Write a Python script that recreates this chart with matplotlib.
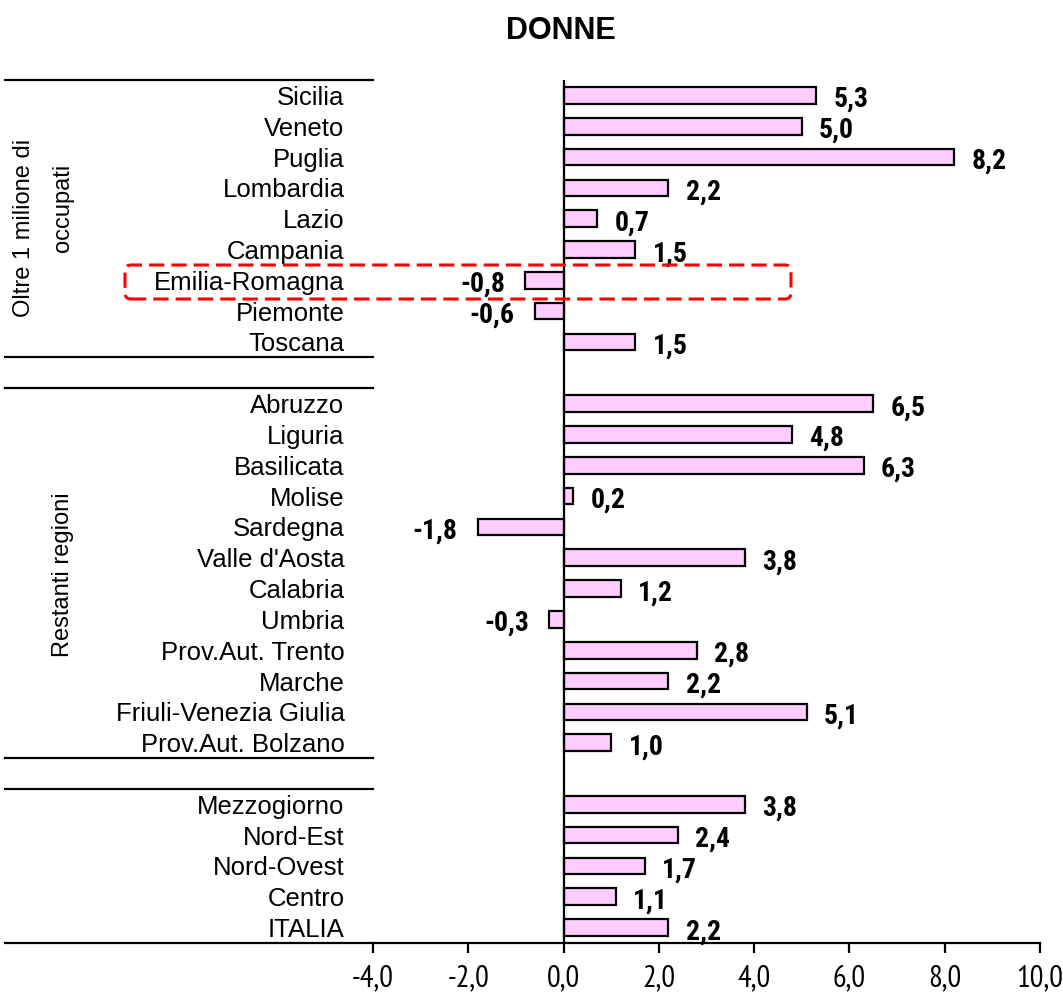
import matplotlib
matplotlib.use("Agg")
import matplotlib.pyplot as plt
from matplotlib.patches import FancyBboxPatch
from matplotlib.transforms import IdentityTransform, blended_transform_factory
from matplotlib.lines import Line2D

SANS = ['Liberation Sans', 'DejaVu Sans']
NARROW = ['PT Sans Narrow', 'Roboto Condensed', 'Liberation Sans', 'DejaVu Sans']
COND = ['Roboto Condensed', 'Liberation Sans', 'DejaVu Sans']
plt.rcParams['font.family'] = SANS

regions_big = ["Sicilia", "Veneto", "Puglia", "Lombardia", "Lazio", "Campania",
               "Emilia-Romagna", "Piemonte", "Toscana"]
values_big = [5.3, 5.0, 8.2, 2.2, 0.7, 1.5, -0.8, -0.6, 1.5]

regions_rest = ["Abruzzo", "Liguria", "Basilicata", "Molise", "Sardegna", "Valle d'Aosta",
                "Calabria", "Umbria", "Prov.Aut. Trento", "Marche",
                "Friuli-Venezia Giulia", "Prov.Aut. Bolzano"]
values_rest = [6.5, 4.8, 6.3, 0.2, -1.8, 3.8, 1.2, -0.3, 2.8, 2.2, 5.1, 1.0]

areas = ["Mezzogiorno", "Nord-Est", "Nord-Ovest", "Centro", "ITALIA"]
values_areas = [3.8, 2.4, 1.7, 1.1, 2.2]

group_line1 = "Oltre 1 milione di"
group_line2 = "occupati"
group_rest = "Restanti regioni"
xticks = [-4, -2, 0, 2, 4, 6, 8, 10]
title = "DONNE"

labels = regions_big + [""] + regions_rest + [""] + areas
values = values_big + [None] + values_rest + [None] + values_areas

W, H = 1063, 998
fig = plt.figure(figsize=(W / 100, H / 100), dpi=100)
ax = fig.add_axes([373 / W, 1 - 943 / H, (1040 - 373) / W, (943 - 80) / H])

pos = [i for i, v in enumerate(values) if v is not None]
vals = [v for v in values if v is not None]
ax.barh(pos, vals, height=0.54, color="#FFCCFF", edgecolor="black", linewidth=1.6, zorder=3)

for p, v in zip(pos, vals):
    txt = f"{v:.1f}".replace(".", ",")
    if v >= 0:
        ax.annotate(txt, (v, p), xytext=(12.5, -3), textcoords="offset points",
                    ha="left", va="center", fontsize=20, fontweight="bold", family=COND)
    else:
        ax.annotate(txt, (v, p), xytext=(-14.5, -3), textcoords="offset points",
                    ha="right", va="center", fontsize=20, fontweight="bold", family=COND)

ax.set_xlim(-4, 10)
ax.set_ylim(len(labels) - 0.5, -0.5)
ax.set_yticks(range(len(labels)))
ax.set_yticklabels(labels, fontsize=18.5)
ax.tick_params(axis="y", length=0, pad=20.5)
ax.set_xticks(xticks)
ax.set_xticklabels([f"{t:.1f}".replace(".", ",") for t in xticks], fontsize=22,
                   family=NARROW)
ax.tick_params(axis="x", direction="out", length=7.5, width=1.6, pad=8)
for s in ["left", "right", "top"]:
    ax.spines[s].set_visible(False)
ax.spines["bottom"].set_linewidth(1.6)
ax.axvline(0, color="black", linewidth=1.6, zorder=4)

# separator lines on the left
trans = blended_transform_factory(ax.transAxes, ax.transData)
x0 = (5 - 373) / (1040 - 373)
for yb in [-0.5, 8.5, 9.5, 21.5, 22.5, 27.5]:
    ax.add_line(Line2D([x0, 0], [yb, yb], transform=trans, color="black",
                       linewidth=1.6, clip_on=False))

# group labels (figure pixel positions converted to fractions)
fig.text(24 / W, 1 - 228 / H, group_line1, rotation=90, ha="center", va="center", fontsize=17)
fig.text(63 / W, 1 - 208 / H, group_line2, rotation=90, ha="center", va="center", fontsize=17)
fig.text(63 / W, 1 - 575 / H, group_rest, rotation=90, ha="center", va="center", fontsize=17)

# red dashed highlight box (pixel coords)
box = FancyBboxPatch((125, H - 299), 666, 34, boxstyle="round,pad=0,rounding_size=6",
                     transform=IdentityTransform(), fill=False, edgecolor="#FF0000",
                     linewidth=2.2, linestyle=(0, (5, 2.3)), zorder=10)
fig.patches.append(box)

fig.text(561 / W, 1 - 31 / H, title, ha="center", va="center", fontsize=22,
         fontweight="bold")

fig.savefig("out.png", dpi=100)
